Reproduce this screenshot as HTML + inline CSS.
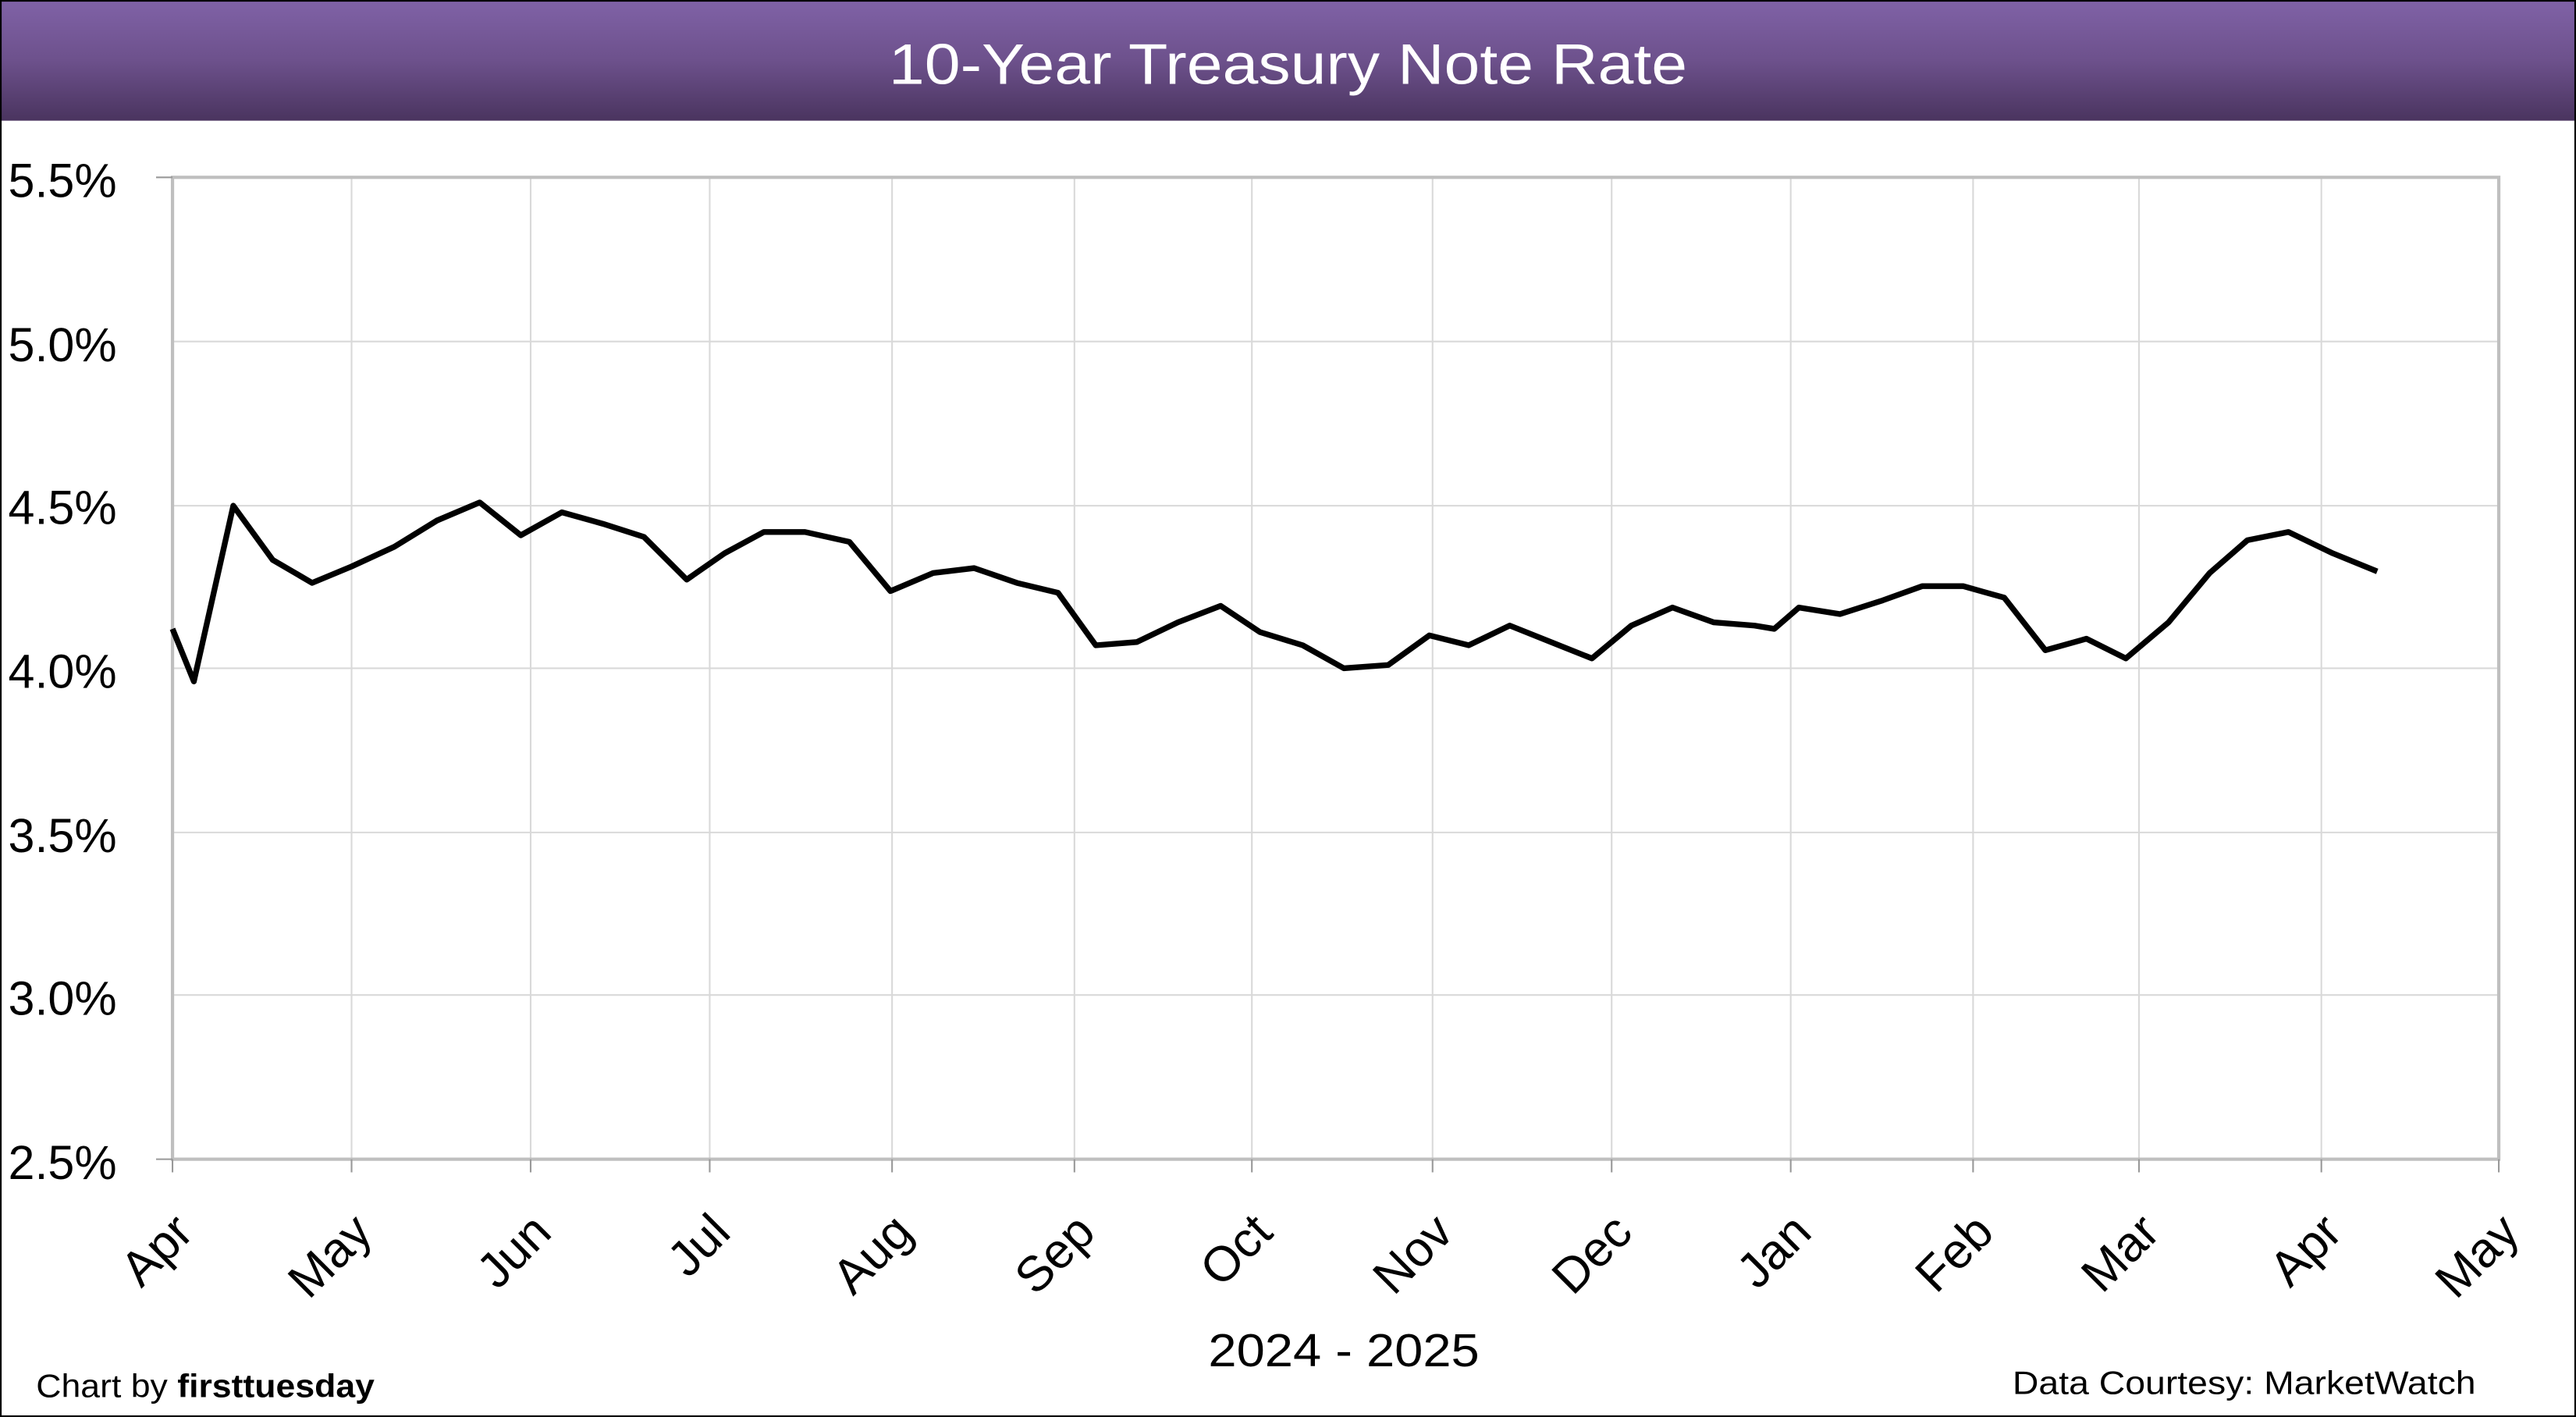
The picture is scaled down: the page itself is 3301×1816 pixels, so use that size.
<!DOCTYPE html>
<html><head><meta charset="utf-8"><style>
html,body{margin:0;padding:0;background:#fff;}
svg{display:block;}
text{font-family:"Liberation Sans",sans-serif;}
</style></head><body>
<svg width="3301" height="1816" viewBox="0 0 1568 863" preserveAspectRatio="none" xmlns="http://www.w3.org/2000/svg">
<defs><linearGradient id="g" x1="0" y1="0" x2="0" y2="1"><stop offset="0" stop-color="#8062a7"/><stop offset="0.5" stop-color="#6d518c"/><stop offset="1" stop-color="#4a345f"/></linearGradient></defs>
<rect x="0" y="0" width="1568" height="863" fill="#fff"/>
<rect x="0" y="0" width="1568" height="73.5" fill="url(#g)"/>
<text x="784" y="51" font-size="35" fill="#fff" text-anchor="middle" textLength="486" lengthAdjust="spacingAndGlyphs">10-Year Treasury Note Rate</text>
<g stroke="#d9d9d9" stroke-width="1">
<line x1="105" y1="208" x2="1521" y2="208"/><line x1="105" y1="308" x2="1521" y2="308"/><line x1="105" y1="407" x2="1521" y2="407"/><line x1="105" y1="507" x2="1521" y2="507"/><line x1="105" y1="606" x2="1521" y2="606"/>
<line x1="214" y1="108" x2="214" y2="706"/><line x1="323" y1="108" x2="323" y2="706"/><line x1="432" y1="108" x2="432" y2="706"/><line x1="543" y1="108" x2="543" y2="706"/><line x1="654" y1="108" x2="654" y2="706"/><line x1="762" y1="108" x2="762" y2="706"/><line x1="872" y1="108" x2="872" y2="706"/><line x1="981" y1="108" x2="981" y2="706"/><line x1="1090" y1="108" x2="1090" y2="706"/><line x1="1201" y1="108" x2="1201" y2="706"/><line x1="1302" y1="108" x2="1302" y2="706"/><line x1="1413" y1="108" x2="1413" y2="706"/>
</g>
<rect x="105" y="108" width="1416" height="598" fill="none" stroke="#bfbfbf" stroke-width="2"/>
<g stroke="#999" stroke-width="1">
<line x1="95" y1="108" x2="105" y2="108"/><line x1="95" y1="706" x2="105" y2="706"/>
<line x1="105" y1="706" x2="105" y2="714"/><line x1="214" y1="706" x2="214" y2="714"/><line x1="323" y1="706" x2="323" y2="714"/><line x1="432" y1="706" x2="432" y2="714"/><line x1="543" y1="706" x2="543" y2="714"/><line x1="654" y1="706" x2="654" y2="714"/><line x1="762" y1="706" x2="762" y2="714"/><line x1="872" y1="706" x2="872" y2="714"/><line x1="981" y1="706" x2="981" y2="714"/><line x1="1090" y1="706" x2="1090" y2="714"/><line x1="1201" y1="706" x2="1201" y2="714"/><line x1="1302" y1="706" x2="1302" y2="714"/><line x1="1413" y1="706" x2="1413" y2="714"/><line x1="1521" y1="706" x2="1521" y2="714"/>
</g>
<g font-size="29" fill="#000">
<text x="5" y="120">5.5%</text><text x="5" y="220">5.0%</text><text x="5" y="319">4.5%</text><text x="5" y="419">4.0%</text><text x="5" y="519">3.5%</text><text x="5" y="618">3.0%</text><text x="5" y="718">2.5%</text>
</g>
<g font-size="30" fill="#000" text-anchor="end">
<text transform="translate(119,752) rotate(-45)">Apr</text>
<text transform="translate(228,752) rotate(-45)">May</text>
<text transform="translate(337,752) rotate(-45)">Jun</text>
<text transform="translate(446,752) rotate(-45)">Jul</text>
<text transform="translate(557,752) rotate(-45)">Aug</text>
<text transform="translate(668,752) rotate(-45)">Sep</text>
<text transform="translate(776,752) rotate(-45)">Oct</text>
<text transform="translate(886,752) rotate(-45)">Nov</text>
<text transform="translate(995,752) rotate(-45)">Dec</text>
<text transform="translate(1104,752) rotate(-45)">Jan</text>
<text transform="translate(1215,752) rotate(-45)">Feb</text>
<text transform="translate(1316,752) rotate(-45)">Mar</text>
<text transform="translate(1427,752) rotate(-45)">Apr</text>
<text transform="translate(1535,752) rotate(-45)">May</text>
</g>
<text x="818" y="832" font-size="28" text-anchor="middle" textLength="165" lengthAdjust="spacingAndGlyphs">2024 - 2025</text>
<text x="22" y="851" font-size="20" textLength="206" lengthAdjust="spacingAndGlyphs">Chart by <tspan font-weight="bold">firsttuesday</tspan></text>
<text x="1225" y="849" font-size="20" textLength="282" lengthAdjust="spacingAndGlyphs">Data Courtesy: MarketWatch</text>
<polyline fill="none" stroke="#000" stroke-width="3.5" stroke-linejoin="round" points="105,383 118,415 142,308 166,341 190,355 214,345 240,333 266,317 292,306 317,326 342,312 367,319 392,327 418,353 441,337 465,324 490,324 517,330 542,360 568,349 593,346 619,355 644,361 667,393 692,391 717,379 743,369 767,385 793,393 818,407 845,405 870,387 894,393 919,381 944,391 969,401 993,381 1018,370 1043,379 1068,381 1080,383 1095,370 1120,374 1145,366 1170,357 1195,357 1220,364 1245,396 1270,389 1294,401 1320,379 1345,349 1368,329 1393,324 1420,337 1447,348"/>
<rect x="0.5" y="0.5" width="1567" height="862" fill="none" stroke="#000" stroke-width="1"/>
</svg>
</body></html>
